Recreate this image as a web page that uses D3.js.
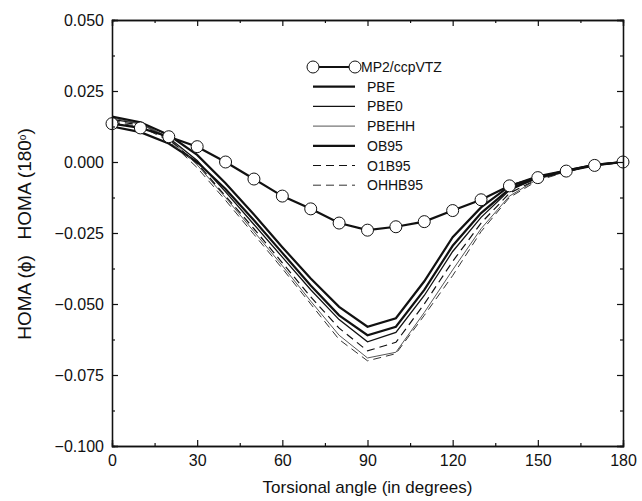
<!DOCTYPE html>
<html>
<head>
<meta charset="utf-8">
<script src="https://cdn.jsdelivr.net/npm/d3@7"></script>
<style>
  body { margin: 0; background: #fff; }
  svg { font-family: "Liberation Sans", Arial, sans-serif; }
</style>
</head>
<body>
<div id="chart"></div>
<script>
var angles = [0, 10, 20, 30, 40, 50, 60, 70, 80, 90, 100, 110, 120, 130, 140, 150, 160, 170, 180];
var mp2    = [0.0135, 0.0120, 0.0089, 0.0054, 0.0000, -0.0060, -0.0120, -0.0165, -0.0215, -0.0240, -0.0228, -0.0210, -0.0171, -0.0133, -0.0084, -0.0055, -0.0032, -0.0012, 0];
var ob95   = [0.0160, 0.0140, 0.0095, 0.0025, -0.0075, -0.0185, -0.0300, -0.0410, -0.0510, -0.0580, -0.0550, -0.0420, -0.0265, -0.0160, -0.0085, -0.0050, -0.0030, -0.0010, 0];
var pbe    = [0.0125, 0.0105, 0.0065, 0.0000, -0.0095, -0.0205, -0.0320, -0.0435, -0.0540, -0.0610, -0.0580, -0.0450, -0.0295, -0.0180, -0.0095, -0.0055, -0.0030, -0.0010, 0];
var pbe0   = [0.0150, 0.0135, 0.0085, 0.0005, -0.0105, -0.0220, -0.0335, -0.0450, -0.0555, -0.0633, -0.0600, -0.0470, -0.0315, -0.0195, -0.0100, -0.0055, -0.0030, -0.0010, 0];
var o1b95  = [0.0145, 0.0130, 0.0080, -0.0005, -0.0120, -0.0235, -0.0355, -0.0475, -0.0585, -0.0665, -0.0635, -0.0500, -0.0350, -0.0215, -0.0110, -0.0060, -0.0035, -0.0010, 0];
var pbehh  = [0.0155, 0.0135, 0.0085, -0.0010, -0.0125, -0.0245, -0.0365, -0.0490, -0.0610, -0.0690, -0.0670, -0.0530, -0.0380, -0.0235, -0.0120, -0.0060, -0.0035, -0.0010, 0];
var ohhb95 = [0.0140, 0.0125, 0.0075, -0.0020, -0.0135, -0.0255, -0.0375, -0.0500, -0.0625, -0.0700, -0.0675, -0.0540, -0.0400, -0.0245, -0.0125, -0.0065, -0.0035, -0.0010, 0];

var xTicks = [0, 30, 60, 90, 120, 150, 180];
var yTicks = [0.050, 0.025, 0.000, -0.025, -0.050, -0.075, -0.100];

// line styles for each method
var series = [
  {name: "PBE",    values: pbe,    width: 2.2, color: "#111", dash: null},
  {name: "PBE0",   values: pbe0,   width: 1.3, color: "#111", dash: null},
  {name: "PBEHH",  values: pbehh,  width: 1.0, color: "#555", dash: null},
  {name: "OB95",   values: ob95,   width: 2.2, color: "#111", dash: null},
  {name: "O1B95",  values: o1b95,  width: 1.2, color: "#111", dash: "8,5"},
  {name: "OHHB95", values: ohhb95, width: 1.0, color: "#333", dash: "8,5"}
];

var width = 642, height = 501;
var margin = {left: 112, right: 19, top: 20, bottom: 55};

var svg = d3.select("#chart").append("svg")
    .attr("width", width)
    .attr("height", height);

var x = d3.scaleLinear().domain([0, 180]).range([margin.left, width - margin.right]);
var y = d3.scaleLinear().domain([-0.100, 0.050]).range([height - margin.bottom, margin.top]);

var line = d3.line()
    .x(function(d, i) { return x(angles[i]); })
    .y(function(d) { return y(d); });

// curves
series.forEach(function(s) {
  svg.append("path")
    .datum(s.values)
    .attr("fill", "none")
    .attr("stroke", s.color)
    .attr("stroke-width", s.width)
    .attr("stroke-dasharray", s.dash)
    .attr("d", line);
});

svg.append("path")
  .datum(mp2)
  .attr("fill", "none")
  .attr("stroke", "#111")
  .attr("stroke-width", 2.2)
  .attr("d", line);

svg.selectAll(".mp2pt")
  .data(mp2)
  .enter().append("circle")
  .attr("class", "mp2pt")
  .attr("cx", function(d, i) { return x(angles[i]); })
  .attr("cy", function(d) { return y(d); })
  .attr("r", 6)
  .attr("fill", "#fff")
  .attr("stroke", "#111")
  .attr("stroke-width", 1);

// axes, ticks inward
var minorX = d3.range(15, 180, 30);
var minorY = [0.0375, 0.0125, -0.0125, -0.0375, -0.0625, -0.0875];

function styleAxis(g) {
  g.select(".domain").attr("stroke", "#111").attr("stroke-width", 1.3);
  g.selectAll(".tick line").attr("stroke", "#111").attr("stroke-width", 1.2);
  g.selectAll("text").attr("font-size", 16).attr("fill", "#111")
    .attr("font-family", "'Liberation Sans', Arial, sans-serif");
}

var yb = height - margin.bottom;
svg.append("g").attr("transform", "translate(0," + yb + ")")
  .call(d3.axisBottom(x).tickValues(xTicks).tickSize(-6).tickPadding(9).tickFormat(d3.format("d")))
  .call(styleAxis);
svg.append("g").attr("transform", "translate(0," + yb + ")")
  .call(d3.axisBottom(x).tickValues(minorX).tickSize(-3).tickFormat(""))
  .call(styleAxis);
svg.append("g").attr("transform", "translate(0," + margin.top + ")")
  .call(d3.axisTop(x).tickValues(xTicks).tickSize(-6).tickFormat(""))
  .call(styleAxis);
svg.append("g").attr("transform", "translate(0," + margin.top + ")")
  .call(d3.axisTop(x).tickValues(minorX).tickSize(-3).tickFormat(""))
  .call(styleAxis);

var yFmt = function(d) { var s = d3.format(".3f")(Math.abs(d)); return (d < -1e-9 ? "\u2212" : "") + s; };
svg.append("g").attr("transform", "translate(" + margin.left + ",0)")
  .call(d3.axisLeft(y).tickValues(yTicks).tickSize(-6).tickPadding(8).tickFormat(yFmt))
  .call(styleAxis);
svg.append("g").attr("transform", "translate(" + margin.left + ",0)")
  .call(d3.axisLeft(y).tickValues(minorY).tickSize(-3).tickFormat(""))
  .call(styleAxis);
var xr = width - margin.right;
svg.append("g").attr("transform", "translate(" + xr + ",0)")
  .call(d3.axisRight(y).tickValues(yTicks).tickSize(-6).tickFormat(""))
  .call(styleAxis);
svg.append("g").attr("transform", "translate(" + xr + ",0)")
  .call(d3.axisRight(y).tickValues(minorY).tickSize(-3).tickFormat(""))
  .call(styleAxis);

// axis titles
svg.append("text")
  .attr("x", (margin.left + xr) / 2)
  .attr("y", 493)
  .attr("text-anchor", "middle")
  .attr("font-size", 17)
  .attr("fill", "#111")
  .text("Torsional angle (in degrees)");

var yt = svg.append("text")
  .attr("transform", "translate(31," + 234 + ") rotate(-90)")
  .attr("text-anchor", "middle")
  .attr("font-size", 19)
  .attr("fill", "#111")
  .style("white-space", "pre");
yt.append("tspan").text("HOMA (\u03d5)   HOMA (180");
yt.append("tspan").attr("baseline-shift", "super").attr("font-size", 10).text("o");
yt.append("tspan").text(")");

// legend
var legX1 = 313, legX2 = 355, legY0 = 67, legStep = 19.7;

var lg = svg.append("g");
lg.append("line")
  .attr("x1", legX1).attr("x2", legX2).attr("y1", legY0).attr("y2", legY0)
  .attr("stroke", "#111").attr("stroke-width", 2.2);
[legX1, legX2].forEach(function(cx) {
  lg.append("circle").attr("cx", cx).attr("cy", legY0).attr("r", 6)
    .attr("fill", "#fff").attr("stroke", "#111").attr("stroke-width", 1);
});
lg.append("text").attr("x", legX2 + 6).attr("y", legY0 + 5)
  .attr("font-size", 14).attr("fill", "#111").text("MP2/ccpVTZ");

series.forEach(function(s, i) {
  var yy = legY0 + (i + 1) * legStep;
  lg.append("line")
    .attr("x1", legX1).attr("x2", legX2).attr("y1", yy).attr("y2", yy)
    .attr("stroke", s.color).attr("stroke-width", s.width)
    .attr("stroke-dasharray", s.dash);
  lg.append("text").attr("x", legX2 + 12).attr("y", yy + 5)
    .attr("font-size", 14).attr("fill", "#111").text(s.name);
});
</script>
</body>
</html>
